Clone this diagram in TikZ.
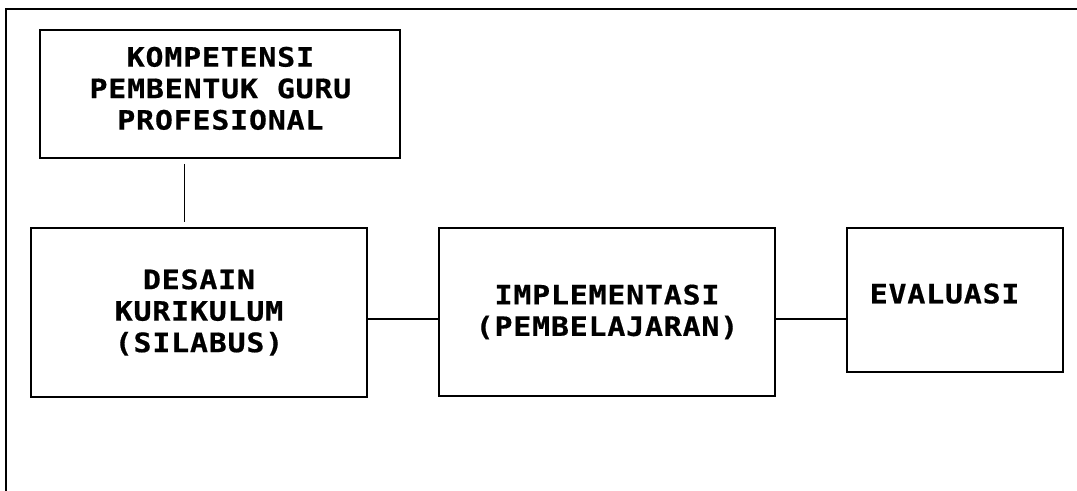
\documentclass[tikz,border=0pt]{standalone}
\usepackage{fontspec}
\newfontfamily\boxfont{DejaVu Sans Mono}[FakeStretch=1.12,LetterSpace=3,FakeBold=0.6]
\usetikzlibrary{positioning,calc}

\begin{document}
\begin{tikzpicture}[
  every node/.style={font=\boxfont\bfseries\fontsize{19}{22.4}\selectfont},
  stepbox/.style={draw,line width=1.3pt,align=center,inner sep=0pt},
  link/.style={line width=0.9pt},
  frame/.style={line width=1.4pt},
]
  \useasboundingbox (0,0) rectangle (26.925,12.275);

  % outer frame (left and top only)
  \draw[frame] (0.15,0) -- (0.15,12.05) -- (26.925,12.05);

  % top box
  \node[stepbox,minimum width=9.0cm,minimum height=3.2cm,
        label={[align=center,yshift=0.14cm]center:{KOMPETENSI\\PEMBENTUK GURU\\PROFESIONAL}}]
    (komp) at (5.51,9.925) {};

  % row of boxes
  \node[stepbox,minimum width=8.4cm,minimum height=4.225cm] (desain) at (4.975,4.4625)
    {DESAIN\\KURIKULUM\\(SILABUS)};
  \node[stepbox,minimum width=8.4cm,minimum height=4.2cm] (impl) at (15.175,4.475)
    {IMPLEMENTASI\\(PEMBELAJARAN)};
  \node[stepbox,minimum width=5.4cm,minimum height=3.6cm,
        label={[xshift=-0.26cm,yshift=0.16cm]center:EVALUASI}] (eval) at (23.875,4.775) {};

  % connectors
  \coordinate (mid) at (0,4.3);
  \draw[link] ([xshift=-0.89cm,yshift=-0.125cm]komp.south)
    -- ([xshift=-0.89cm,yshift=0.125cm]komp.south |- desain.north);
  \draw[link] (desain.east |- mid) -- (impl.west |- mid);
  \draw[link] (impl.east |- mid) -- (eval.west |- mid);
\end{tikzpicture}
\end{document}
